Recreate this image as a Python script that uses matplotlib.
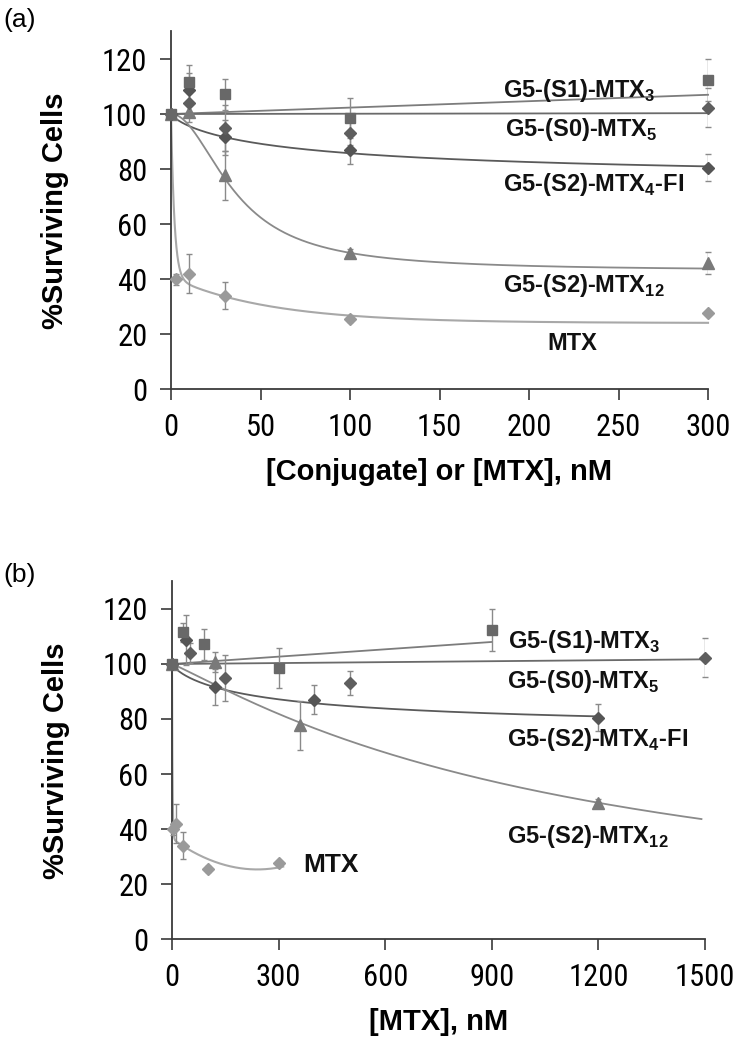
import numpy as np
import matplotlib
matplotlib.use("Agg")
import matplotlib.pyplot as plt
from matplotlib import font_manager as fm

plt.rcParams["font.family"] = ["Liberation Sans", "DejaVu Sans"]
plt.rcParams["mathtext.fontset"] = "custom"
plt.rcParams["mathtext.rm"] = "Liberation Sans"
plt.rcParams["mathtext.bf"] = "Liberation Sans:bold"

_available = {f.name for f in fm.fontManager.ttflist}
NARROW = next((n for n in ["Liberation Sans Narrow", "Arial Narrow", "Roboto Condensed",
                           "Archivo Narrow", "PT Sans Narrow", "Arimo"]
               if n in _available), "Liberation Sans")

# ---------------- data ----------------
# panel (a): x = [conjugate] or [MTX], nM
conc_a = [0, 10, 30, 100, 300]
s1_y = [100, 111.5, 107.2, 98.5, 112.5]
s1_err = [0, 3.4, 5.6, 7.4, 7.6]
s0_y = [100, 104.0, 95.0, 93.0, 102.3]
s0_err = [0, 3.6, 8.3, 4.3, 7.0]
fi_y = [100, 108.7, 91.6, 87.0, 80.5]
fi_err = [0, 9.0, 6.4, 5.3, 4.8]
s12_y = [100, 100.8, 77.7, 49.5, 46.0]
s12_err = [0, 3.7, 9.0, 1.5, 4.0]
mtx_x = [3, 10, 30, 100, 300]
mtx_y = [40.0, 42.0, 34.0, 25.5, 27.7]
mtx_err = [2.0, 7.0, 5.0, 1.0, 0.5]

# panel (b): x = MTX-equivalent concentration, nM
s1_xb = [0, 30, 90, 300, 900]
s0_xb = [0, 50, 150, 500, 1500]
fi_xb = [0, 40, 120, 400, 1200]
s12_xb = [0, 120, 360, 1200]

# trend-line parameters
S1_SLOPE_A, S0_SLOPE_A = 0.0233, 0.001
FI_FIT_A = (75.0, 70.0, 0.8)        # bottom, K, n
S12_FIT_A = (43.0, 35.9, 2.0)
MTX_FIT_A = (24.0, 59.4, 1.87, 16.6, 55.0)
S1_SLOPE_B, S0_SLOPE_B = 0.0089, 0.00113
FI_FIT_B = (75.0, 280.0, 0.8)
S12_FIT_B = (0.0, 1180.0, 1.1)
MTX_FIT_B = (25.3, 1.95e-4, 240.0, 63.5, 1.5)

labels = [r"G5-(S1)-MTX$_\mathbf{3}$", r"G5-(S0)-MTX$_\mathbf{5}$",
          r"G5-(S2)-MTX$_\mathbf{4}$-FI", r"G5-(S2)-MTX$_\mathbf{12}$", "MTX"]

# ---------------- styling ----------------
C_S1, C_S0, C_FI, C_S12, C_MTX = "#686868", "#5e5e5e", "#555555", "#7a7a7a", "#9a9a9a"
L_S1, L_S0, L_FI, L_S12, L_MTX = "#7c7c7c", "#6a6a6a", "#5a5a5a", "#8a8a8a", "#a8a8a8"
ERR_C = "#8a8a8a"
TICK_FONT = [NARROW, "Liberation Sans", "DejaVu Sans"]
TICK_SIZE = 22 if NARROW != "Liberation Sans" else 19


def four_pl(x, bottom, K, n):
    x = np.asarray(x, float)
    return bottom + (100 - bottom) / (1 + (x / K) ** n)


def mtx_a(x, c, a, t1, b, t2):
    return c + a * np.exp(-x / t1) + b * np.exp(-x / t2)


def mtx_b(x, c, q, x0, a, t1):
    return c + q * (x - x0) ** 2 + a * np.exp(-x / t1)


def series(ax, x, y, err, marker, ms, color):
    ax.errorbar(x, y, yerr=err, fmt="none", ecolor=ERR_C, elinewidth=1.0,
                capsize=2.5, capthick=1.0, zorder=3)
    ax.plot(x, y, linestyle="none", marker=marker, ms=ms, color=color,
            mec=color, zorder=4)


def style_axis(ax, xmax, xticks):
    ax.set_xlim(0, xmax)
    ax.set_ylim(0, 130)
    ax.set_yticks(range(0, 121, 20))
    ax.set_xticks(xticks)
    for s in ["top", "right"]:
        ax.spines[s].set_visible(False)
    for s in ["left", "bottom"]:
        ax.spines[s].set_color("#3a3a3a")
        ax.spines[s].set_linewidth(1.3)
    ax.tick_params(direction="out", length=8, width=1.2, color="#3a3a3a",
                   labelsize=TICK_SIZE, pad=9)
    for t in ax.get_xticklabels() + ax.get_yticklabels():
        t.set_family(TICK_FONT)
    ax.set_ylabel("%Surviving Cells", fontsize=21, fontweight="bold", labelpad=24)


fig = plt.figure(figsize=(7.35, 10.5), dpi=100)
ax_a = fig.add_axes([0.2327, 0.6295, 0.7306, 0.3405])
ax_b = fig.add_axes([0.2340, 0.1057, 0.7252, 0.3405])

# ---------------- panel (a) ----------------
xa = np.linspace(0, 300, 600)
xa_fine = np.concatenate([np.linspace(0, 10, 400), np.linspace(10, 300, 400)])
ax_a.plot(xa, 100 + S1_SLOPE_A * xa, color=L_S1, lw=1.3, zorder=2)
ax_a.plot(xa, 100 + S0_SLOPE_A * xa, color=L_S0, lw=1.3, zorder=2)
ax_a.plot(xa, four_pl(xa, *FI_FIT_A), color=L_FI, lw=1.3, zorder=2)
ax_a.plot(xa, four_pl(xa, *S12_FIT_A), color=L_S12, lw=1.3, zorder=2)
ax_a.plot(xa_fine, mtx_a(xa_fine, *MTX_FIT_A), color=L_MTX, lw=1.5, zorder=2)

series(ax_a, mtx_x, mtx_y, mtx_err, "D", 6.5, C_MTX)
series(ax_a, conc_a, s12_y, s12_err, "^", 8, C_S12)
series(ax_a, conc_a, fi_y, fi_err, "D", 6.5, C_FI)
series(ax_a, conc_a, s0_y, s0_err, "D", 6.5, C_S0)
series(ax_a, conc_a, s1_y, s1_err, "s", 7, C_S1)

style_axis(ax_a, 300, range(0, 301, 50))
ax_a.set_xlabel("[Conjugate] or [MTX], nM", fontsize=21, fontweight="bold", labelpad=12)

lab_kw = dict(fontsize=17, fontweight="bold", va="center", ha="left", color="#111111")
ax_a.text(185.5, 108.7, labels[0], **lab_kw)
ax_a.text(186.5, 94.2, labels[1], **lab_kw)
ax_a.text(185.5, 74.2, labels[2], **lab_kw)
ax_a.text(185.5, 37.8, labels[3], **lab_kw)
ax_a.text(224, 16.7, labels[4], fontsize=17, fontweight="bold", va="center",
          ha="center", color="#111111")

# ---------------- panel (b) ----------------
xb_s1 = np.linspace(0, 900, 400)
xb_s0 = np.linspace(0, 1500, 400)
xb_fi = np.linspace(0, 1200, 400)
xb_s12 = np.linspace(0, 1490, 400)
xb_mtx = np.concatenate([np.linspace(0, 10, 300), np.linspace(10, 313, 300)])
ax_b.plot(xb_s1, 100 + S1_SLOPE_B * xb_s1, color=L_S1, lw=1.3, zorder=2)
ax_b.plot(xb_s0, 100 + S0_SLOPE_B * xb_s0, color=L_S0, lw=1.3, zorder=2)
ax_b.plot(xb_fi, four_pl(xb_fi, *FI_FIT_B), color=L_FI, lw=1.3, zorder=2)
ax_b.plot(xb_s12, four_pl(xb_s12, *S12_FIT_B), color=L_S12, lw=1.3, zorder=2)
ax_b.plot(xb_mtx, mtx_b(xb_mtx, *MTX_FIT_B), color=L_MTX, lw=1.5, zorder=2)

series(ax_b, mtx_x, mtx_y, mtx_err, "D", 6.5, C_MTX)
series(ax_b, s12_xb, s12_y[:4], s12_err[:4], "^", 8, C_S12)
series(ax_b, fi_xb, fi_y, fi_err, "D", 6.5, C_FI)
series(ax_b, s0_xb, s0_y, s0_err, "D", 6.5, C_S0)
series(ax_b, s1_xb, s1_y, s1_err, "s", 7, C_S1)

style_axis(ax_b, 1500, range(0, 1501, 300))
ax_b.set_xlabel("[MTX], nM", fontsize=21, fontweight="bold", labelpad=12)

ax_b.text(946, 108.1, labels[0], **lab_kw)
ax_b.text(942, 93.6, labels[1], **lab_kw)
ax_b.text(942, 72.4, labels[2], **lab_kw)
ax_b.text(942, 37.2, labels[3], **lab_kw)
ax_b.text(369, 26.8, labels[4], fontsize=19, fontweight="bold", va="center",
          ha="left", color="#111111")

for ax in (ax_a, ax_b):
    for ln in ax.lines:
        ln.set_clip_on(False)

fig.text(0.004, 0.981, "(a)", fontsize=19, ha="left", va="center")
fig.text(0.004, 0.452, "(b)", fontsize=19, ha="left", va="center")

fig.savefig("out.png", dpi=100, facecolor="white")
